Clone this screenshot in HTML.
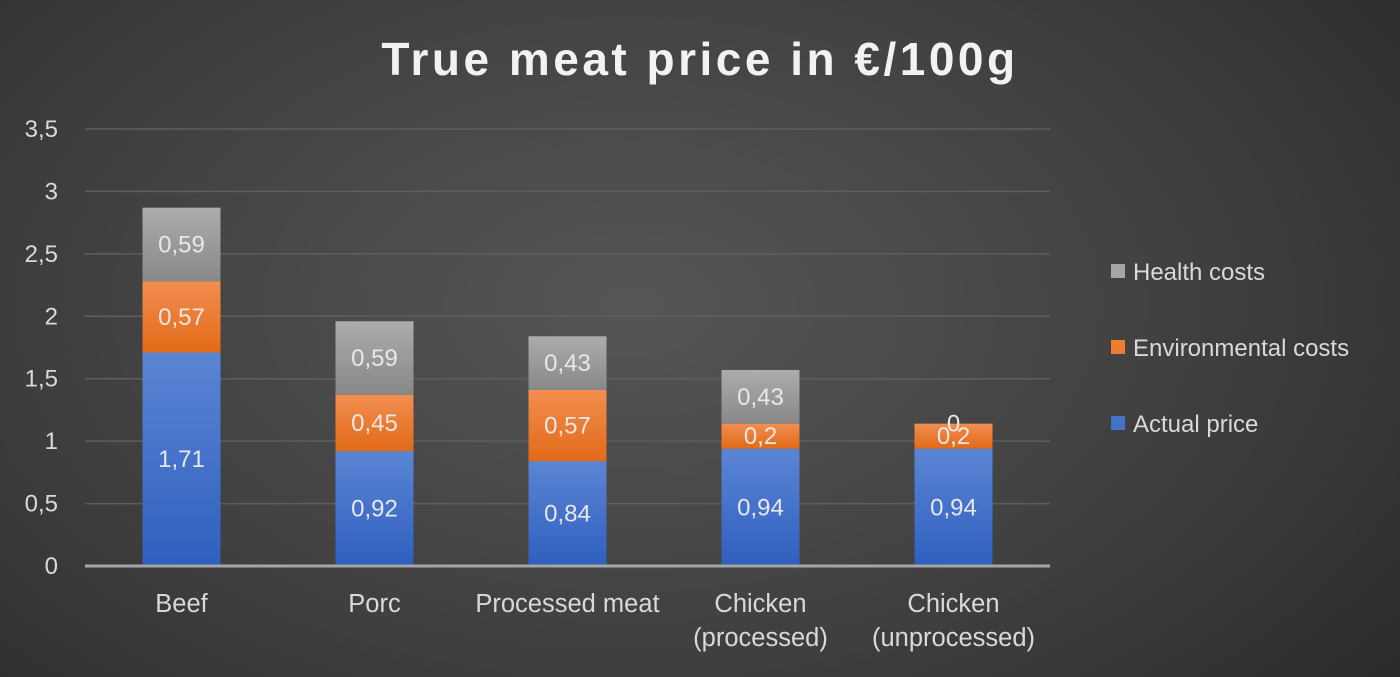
<!DOCTYPE html>
<html><head><meta charset="utf-8"><style>
html,body{margin:0;padding:0;width:1400px;height:677px;overflow:hidden}
body{background:radial-gradient(ellipse 75% 95% at 45% 45%,#565656 0%,#3f3f3f 55%,#282828 100%);font-family:"Liberation Sans",sans-serif}
svg text{font-family:"Liberation Sans",sans-serif}
</style></head><body>
<svg width="1400" height="677">
<defs>
<linearGradient id="gb" x1="0" y1="0" x2="0" y2="1"><stop offset="0" stop-color="#5b85d4"/><stop offset="1" stop-color="#2f5fbf"/></linearGradient>
<linearGradient id="go" x1="0" y1="0" x2="0" y2="1"><stop offset="0" stop-color="#f28e50"/><stop offset="1" stop-color="#e26a18"/></linearGradient>
<linearGradient id="gg" x1="0" y1="0" x2="0" y2="1"><stop offset="0" stop-color="#acacac"/><stop offset="1" stop-color="#888"/></linearGradient>
</defs>
<text x="700" y="75" text-anchor="middle" font-size="46" font-weight="bold" fill="#f2f2f2" letter-spacing="3.5">True meat price in €/100g</text>
<g id="grid"></g><g id="bars"></g><g id="labels"></g>
<g>
<rect x="1111" y="264" width="14" height="14" fill="#a6a6a6"/>
<text x="1133" y="280" font-size="24" fill="#d9d9d9">Health costs</text>
<rect x="1111" y="340" width="14" height="14" fill="#ed7d31"/>
<text x="1133" y="356" font-size="24" fill="#d9d9d9">Environmental costs</text>
<rect x="1111" y="416" width="14" height="14" fill="#4472c4"/>
<text x="1133" y="432" font-size="24" fill="#d9d9d9">Actual price</text>
</g>
</svg>
<script>
const categories=[["Beef"],["Porc"],["Processed meat"],["Chicken","(processed)"],["Chicken","(unprocessed)"]];
const actual=[1.71,0.92,0.84,0.94,0.94];
const env=[0.57,0.45,0.57,0.2,0.2];
const health=[0.59,0.59,0.43,0.43,0];
const yTicks=[0,0.5,1,1.5,2,2.5,3,3.5];
const NS="http://www.w3.org/2000/svg";
const x0=85,x1=1050,yBase=566,yTop=129,yMax=3.5,bw=78;
const y=v=>yBase-(v/yMax)*(yBase-yTop);
const xc=i=>x0+(x1-x0)/categories.length*(i+0.5);
const fmt=v=>String(v).replace('.',',');
function mk(t,a,p){const e=document.createElementNS(NS,t);for(const k in a)e.setAttribute(k,a[k]);p.appendChild(e);return e;}
const grid=document.getElementById('grid'),bars=document.getElementById('bars'),labels=document.getElementById('labels');
yTicks.forEach(t=>{
 if(t>0){const l=mk('line',{x1:x0,x2:x1,y1:y(t),y2:y(t),stroke:'#5e5e5e','stroke-width':1.5},grid);
 
 }
 const tx=mk('text',{x:58,y:y(t)+8,'text-anchor':'end','font-size':24,fill:'#d9d9d9'},grid);
 tx.textContent=fmt(t);
 
 
});
const series=[[actual,'url(#gb)','actual'],[env,'url(#go)','env'],[health,'url(#gg)','health']];
categories.forEach((c,i)=>{
 let cum=0;
 series.forEach(([arr,fill,nm])=>{
  const v=arr[i];const yt=y(cum+v),yb=y(cum);
  const r=mk('rect',{x:xc(i)-bw/2,y:yt,width:bw,height:Math.max(0,yb-yt),fill:fill},bars);
  
  
  const t=mk('text',{x:xc(i),y:(yt+yb)/2+8,'text-anchor':'middle','font-size':24,fill:'#e8e8e8'},labels);
  t.textContent=fmt(v);
  
  
  cum+=v;
 });
 c.forEach((line,k)=>{
  const t=mk('text',{x:xc(i),y:612+k*34,'text-anchor':'middle','font-size':25.5,fill:'#d9d9d9'},grid);
  t.textContent=line;
  
  
 });
});
const ax=mk('line',{x1:x0,x2:x1,y1:yBase,y2:yBase,stroke:'#a6a6a6','stroke-width':3},labels);


</script>
</body></html>
